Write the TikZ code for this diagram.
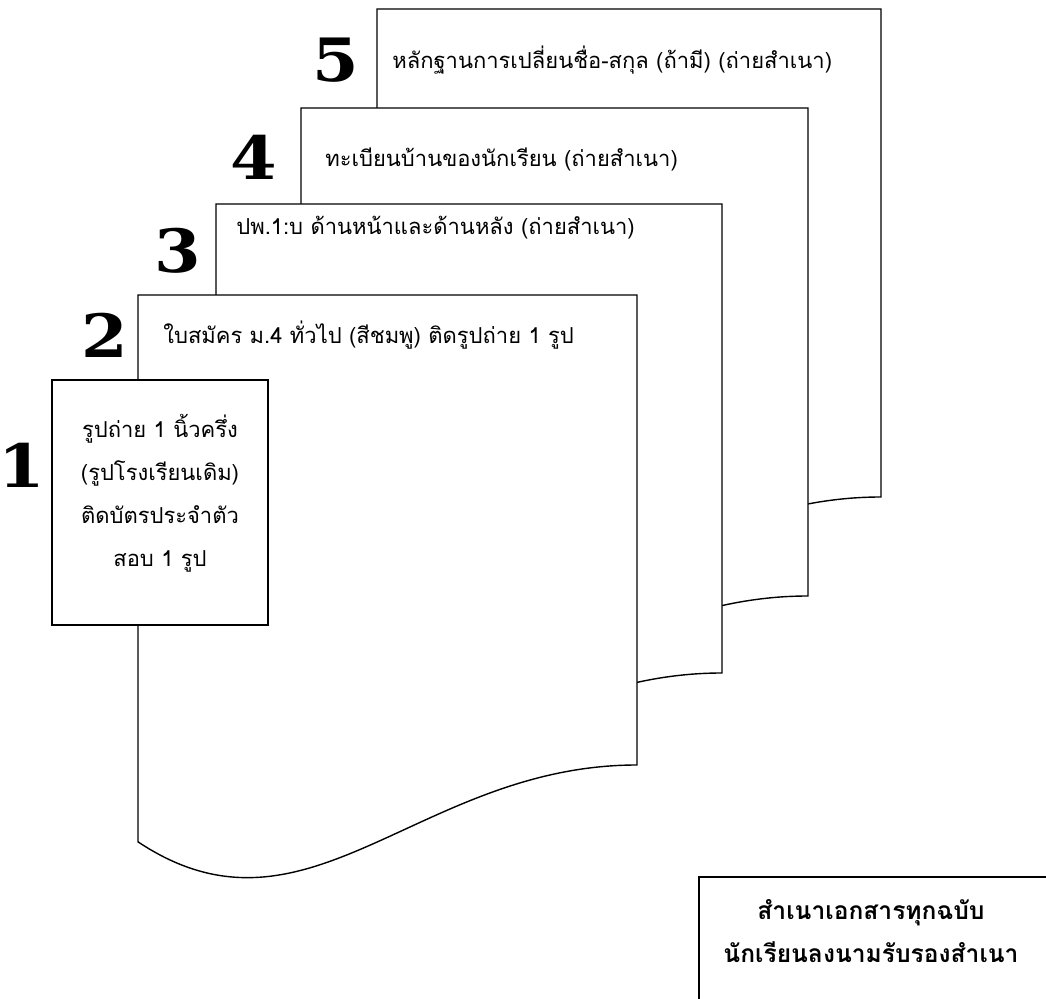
\documentclass[tikz,border=0pt]{standalone}
\usepackage{fontspec}
\newfontfamily\thaifont[Script=Thai]{Loma}
\newfontfamily\numfont{DejaVu Serif}
\usetikzlibrary{positioning}

\begin{document}
\begin{tikzpicture}[x=0.02cm, y=-0.02cm,
    sheet/.style={draw, fill=white, line width=0.8pt},
    docnum/.style={font=\numfont\bfseries\fontsize{34}{34}\selectfont, inner sep=0pt},
    doctext/.style={font=\thaifont\fontsize{12.5}{15}\selectfont, anchor=west, inner sep=0pt}]
        \clip (0,0) rectangle (1046,999);
        \def\docsheet#1#2#3#4{%
            \draw[sheet] (#1,#2) -- (#3,#2) -- (#3,#4)
                .. controls ({#1+0.56*(#3-#1)},#4) and ({#1+0.34*(#3-#1)},{#4+0.38*(#3-#1)}) .. (#1,{#4+0.154*(#3-#1)}) -- cycle;}
        \def\wide#1{\scalebox{1.12}[1]{#1}}

        % pages, back to front
        \docsheet{377}{9}{881}{497}
        \docsheet{301}{108}{808}{596}
        \docsheet{216}{204}{722}{673}
        \docsheet{138}{295}{637}{765}
        \draw[sheet] (52,380) rectangle (268,625);

        \node (n5) [docnum] at (336,60) {\wide{5}};
        \node (t5) [doctext] at (392,60) {หลักฐานการเปลี่ยนชื่อ-สกุล (ถ้ามี) (ถ่ายสำเนา)};
        \node (n4) [docnum] at (254,157) {\wide{4}};
        \node (t4) [doctext] at (325,160) {ทะเบียนบ้านของนักเรียน (ถ่ายสำเนา)};
        \node (n3) [docnum] at (178,251) {\wide{3}};
        \node (t3) [doctext] at (236,228) {ปพ.1:บ ด้านหน้าและด้านหลัง (ถ่ายสำเนา)};
        \node (n2) [docnum] at (105,335) {\wide{2}};
        \node (t2) [doctext] at (163,335) {ใบสมัคร ม.4 ทั่วไป (สีชมพู) ติดรูปถ่าย 1 รูป};
        \node (n1) [docnum] at (22,465) {\wide{1}};
        \node (t1) [doctext, anchor=center, align=center, font=\thaifont\fontsize{12.5}{24.4}\selectfont] at (160,493)
            {รูปถ่าย 1 นิ้วครึ่ง\\(รูปโรงเรียนเดิม)\\ติดบัตรประจำตัว\\สอบ 1 รูป};

        \draw[sheet] (699,877) rectangle (1080,1040);
        \node (note) [doctext, anchor=center, align=center, font=\thaifont\bfseries\fontsize{14}{24.4}\selectfont] at (871,931)
            {สำเนาเอกสารทุกฉบับ\\นักเรียนลงนามรับรองสำเนา};
    \end{tikzpicture}
\end{document}
